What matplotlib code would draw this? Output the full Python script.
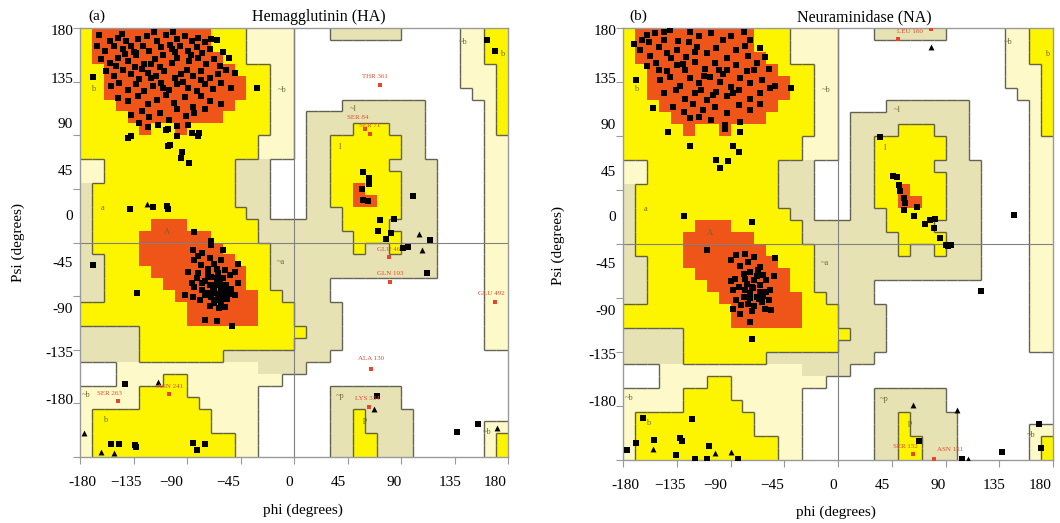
import sys
import numpy as np
import matplotlib
matplotlib.use("Agg")
import matplotlib.pyplot as plt
from matplotlib.colors import ListedColormap
from matplotlib.collections import LineCollection

plt.rcParams['font.family'] = ['Liberation Serif', 'DejaVu Serif']

# Ramachandran region map, 10 degree cells, one row per psi band (180 at top)
# '.' disallowed, 'h'/'g' generously allowed, 'y' allowed, 'r' most favoured
region_rows = [
    "y1 r10 y3 h4 .3 g6 .5 h2 y2",
    "y1 r10 y3 h4 .14 h2 y2",
    "y1 r11 y2 h4 .14 h2 y2",
    "y2 r11 y3 h2 .14 h3 y1",
    "y2 r12 y2 h2 .14 h3 y1",
    "y2 r12 y2 h2 .15 h2 y1",
    "y3 r10 y3 h2 .4 g7 .5 h1 y1",
    "y4 r8 y4 h2 .1 g10 .5 h1 y1",
    "y5 r1 y2 r1 y7 h2 .1 g4 y3 g3 .5 h1 y1",
    "y15 h3 .1 g2 y6 g2 .5 h2",
    "y15 h3 .1 g2 y6 g2 .5 h2",
    "h2 y11 g3 .3 g2 y5 g4 .4 h2",
    "h2 y11 g3 .3 g2 y6 g3 .4 h2",
    "g1 y12 g3 .3 g2 y2 r1 y3 g3 .4 h2",
    "g1 y12 g3 .3 g2 y2 r2 y2 g3 .4 h2",
    "g1 y13 g2 .3 g3 y5 g3 .4 h2",
    "g1 y5 r3 y6 g7 y4 g4 .4 h2",
    "g1 y4 r6 y4 g8 y4 g3 .4 h2",
    "g1 y4 r7 y4 g7 y1 g2 y1 g3 .4 h2",
    "g2 y3 r8 y3 g14 .4 h2",
    "g2 y4 r8 y2 g14 .4 h2",
    "g2 y5 r7 y2 g5 .13 h2",
    "g2 y6 r7 y2 g4 .13 h2",
    "y9 r6 y3 g4 .12 h2",
    "y9 r6 y3 g4 .12 h2",
    "g5 y14 g3 .12 h2",
    "g5 y13 g4 .12 h2",
    "g5 y7 g9 .15",
    ".3 h12 g4 .17",
    ".3 h4 y2 h8 .19",
    "h5 y4 h6 .6 g6 .9",
    "h5 y5 h5 .6 g6 .9",
    "h1 y10 h4 .6 g2 y1 g4 .8",
    "h1 y10 h4 .6 g2 y1 g4 .6 h2",
    "h1 y12 h2 .6 g2 y2 g3 .6 h1 y1",
    "h1 y12 h2 .6 g2 y2 g3 .6 h1 y1",
]

# tick labels (placed where the original figure prints them)
ytick_pos = [178, 138, 100, 61, 23, -16, -55, -92, -131]
ytick_txt = ["180", "135", "90", "45", "0", "-45", "-90", "-135", "-180"]
xtick_pos = [-178, -141, -103, -55, -4, 37, 84, 131, 169]
xtick_txt = ["-180", "\u2212135", "\u221290", "\u221245", "0", "45", "90", "135", "180"]

# ---------------- HA residues ----------------
ha_res_phi = [
    -164, -155, -148, -141, -131, -124, -115, -108, -102, -98, -92, -86, -81, -75, -70,
    -166, -159, -151, -144, -137, -133, -127, -122, -112, -103, -96, -89, -82, -77, -71,
    -162, -155, -148, -140, -133, -126, -117, -110, -103, -98, -88, -81, -74, -67, -62,
    -158, -151, -144, -137, -130, -123, -116, -109, -100, -95, -85, -78, -71, -64, -57, -50,
    -154, -147, -140, -133, -126, -119, -112, -105, -98, -89, -82, -75, -68, -61, -53,
    -148, -140, -131, -123, -115, -108, -101, -92, -85, -78, -71, -61,
    -137, -128, -122, -113, -105, -98, -91, -84, -75,
    -130, -123, -114, -106, -98, -89,
    -120, -128, -110, -135, -90, -100, -145, -118, -60, -55, -65, -142, -150, -113, -93,
    -78, -104, -134, -120, -87,
    -169, -31, -137, -140, -108, -104, -106, -98, -94, -95, -88, -86, -81, -80,
    -138, -119, -107, -106, -84,
    -85, -81, -84, -77, -71, -78, -72, -67, -61, -58, -64, -70, -75, -81, -86, -89, -84,
    -77, -71, -65, -60, -54, -50, -47, -53, -58, -64, -70, -75, -79, -92, -85, -67, -61,
    -56, -50, -63, -68, -57, -72, -65, -60, -63, -58, -71, -77, -82, -54, -70, -60, -47,
    -67, -63, -61, -66, -64, -60, -68, -62, -70, -58, -65, -72,
    -75, -65, -52, -70, -169, -132,
    -142, -154, -147, -134, -133, -85, -75, -82,
    58, 63, 63, 57, 58, 62, 100, 72, 84, 71, 82, 77, 96, 112, 92, 114,
    162, 169, 70, 137, 155,
]
ha_res_psi = [
    174, 169, 172, 169, 171, 173, 169, 174, 177, 171, 173, 169, 172, 168, 171,
    165, 161, 165, 162, 165, 159, 165, 161, 164, 162, 165, 161, 164, 159, 162,
    154, 151, 155, 152, 157, 150, 154, 157, 151, 155, 152, 155, 150, 154, 148,
    144, 140, 145, 141, 137, 142, 140, 144, 138, 141, 140, 144, 138, 141, 145, 142,
    131, 134, 128, 133, 127, 131, 134, 128, 133, 130, 127, 133, 129, 134, 130,
    121, 119, 123, 116, 120, 124, 117, 122, 114, 123, 119, 116,
    107, 110, 105, 109, 103, 112, 106, 109, 112,
    100, 97, 99, 95, 98, 99,
    150, 146, 130, 160, 145, 160, 175, 177, 160, 155, 170, 158, 148, 147, 135,
    136, 166, 147, 138, 157,
    139, 130, 89, 88, 94, 82, 81, 89, 76, 71, 67, 92, 89, 92,
    28, 30, 31, 28, 9,
    -6, -11, -15, -9, -13, -19, -22, -18, -15, -23, -26, -29, -32, -26, -34, -25, -37,
    -40, -36, -33, -30, -27, -25, -34, -39, -41, -43, -46, -44, -48, -44, -46, -51, -50,
    -47, -44, -55, -40, -36, -27, -22, -37, -47, -54, -53, -34, -30, -43, -2, -6, -18,
    -38, -44, -40, -48, -36, -46, -42, -33, -36, -44, -30, -42,
    -65, -66, -70, 1, -19, -42,
    -119, -169, -169, -170, -172, -168, -169, -174,
    59, 54, 49, 45, 36, 35, 39, 19, 20, 10, 8, 3, -4, -26, -5, 2,
    170, 161, -129, -159, -152,
]
ha_gly_phi = [-124, 105, 108, -177, -162, -151, -114, 67, 171]
ha_gly_psi = [32, 7, -6, -160, -176, -177, -117, -140, -156]
ha_out_phi = [72, 60, 64, 80, 81, 169, 65, 63, -148, -105]
ha_out_psi = [132, 95, 91, -12, -33, -50, -106, -138, -133, -127]
ha_out_txt = ["THR 361", "SER 84", "SER 71", "GLU 46", "GLN 193", "GLU 492",
              "ALA 130", "LYS 334", "SER 263", "ASN 241"]
ha_lab_phi = [68, 54, 64, 80, 81, 166, 65, 62, -155, -104]
ha_lab_psi = [139, 105, 98, -6, -26, -43, -97, -131, -127, -121]

# ---------------- NA residues ----------------
na_res_phi = [
    -171, -164, -160, -153, -146, -141, -134, -124, -116, -106, -96, -90, -79, -74,
    -166, -157, -150, -143, -135, -127, -118, -110, -102, -93, -85, -75, -65, -61,
    -160, -152, -143, -135, -128, -120, -111, -103, -93, -85, -76, -68, -58,
    -149, -141, -132, -124, -116, -107, -99, -90, -82, -74, -64, -53,
    -146, -136, -128, -120, -110, -102, -93, -83, -74, -65, -57,
    -138, -129, -121, -113, -103, -93, -83, -74, -65,
    -124, -116, -106, -95, -82,
    -158, -146, -130, -112, -96, -140, -120, -88, -105, -70, -150, -115, -100, -78, -125,
    -169, -155, -39, -142, -124, -102, -92, -99, -88, -83, -82, -95,
    -129, -72, -110,
    -90, -85, -78, -82, -75, -70, -65, -63, -68, -74, -79, -86, -90, -83, -76, -71,
    -65, -60, -57, -63, -68, -74, -79, -85, -88, -81, -75, -70, -64, -58, -56, -61,
    -72, -78, -65, -54, -53, -88, -82, -67,
    -70, -74, -66, -78, -72, -60,
    -74, -72,
    35, 46, 49, 51, 52, 55, 56, 55, 66, 64, 73, 77, 81, 80, 85, 90, 92, 95, 147, 120,
    -163, -122, -169, -177, -154, -132, -131, -136, -108, -120, -110, -84,
    68, 137, 168, 170, 104,
]
na_res_psi = [
    167, 170, 174, 176, 177, 178, 169, 177, 173, 176, 170, 173, 177, 170,
    162, 157, 164, 159, 162, 156, 164, 159, 163, 155, 162, 157, 163, 156,
    148, 151, 144, 149, 145, 152, 146, 151, 145, 149, 144, 151, 146,
    137, 139, 132, 138, 134, 139, 135, 131, 138, 134, 137, 132,
    126, 128, 121, 126, 120, 127, 123, 128, 121, 126, 130,
    114, 110, 117, 112, 114, 109, 116, 112, 117,
    105, 106, 103, 99, 102,
    168, 170, 150, 140, 142, 155, 160, 126, 124, 145, 145, 128, 145, 165, 168,
    137, 113, 130, 93, 82, 70, 69, 63, 82, 77, 93, 96,
    23, 18, -5,
    -13, -9, -8, -18, -15, -11, -19, -26, -27, -23, -25, -29, -31, -36, -33, -37,
    -34, -30, -38, -43, -44, -41, -44, -47, -54, -51, -50, -52, -48, -47, -55, -54,
    -56, -38, -40, -27, -12, -38, -58, -22,
    -30, -45, -46, -29, -36, -40,
    -65, -79,
    89, 57, 56, 49, 44, 38, 34, 28, 31, 23, 17, 20, 21, 13, 5, -1, -2, -1, 24, -39,
    -145, -146, -166, -172, -163, -162, -164, -176, -168, -179, -179, -179,
    -164, -173, -150, -170, -179,
]
na_gly_phi = [78, 63, 100, 109, -90, -103, -155]
na_gly_psi = [164, -134, -138, -179, -173, -174, -171]
na_out_phi = [78, 50, 63, 80]
na_out_psi = [179, 171, -175, -179]
na_out_txt = ["LEU 160", "", "SER 152", "ASN 151"]
na_lab_phi = [60, 0, 56, 94]
na_lab_psi = [177, 0, -169, -171]

# region letters shown on the map
reg_txt = ["b", "a", "A", "~b", "~a", "~b", "b", "~l", "l", "~b", "b", "~p", "p", "~b"]
reg_phi = [-169, -161, -107, -10, -11, -175, -159, 50, 39, 142, 175, 39, 60, 162]
reg_psi = [129, 29, 9, 128, -16, -128, -149, 112, 80, 168, 158, -129, -149, -159]

cell_colors = ['#ffffff', '#fdf9c8', '#e7e2b3', '#fdf500', '#ef5418']
codes = {'.': 0, 'h': 1, 'g': 2, 'y': 3, 'r': 4}


def parse_row(s):
    out = []
    for tok in s.split():
        out += [tok[0]] * int(tok[1:])
    if len(out) != 36:
        print("row length", len(out), s, file=sys.stderr)
    out = (out + ['.'] * 36)[:36]
    return [codes[ch] for ch in out]


grid = np.array([parse_row(s) for s in region_rows])[::-1]  # row 0 = psi -180
edges = np.arange(-180, 181, 10)
level = np.array([0, 1, 1, 2, 3])[grid]

segs = []
for i in range(36):
    for j in range(1, 36):
        a, b = level[i, j - 1], level[i, j]
        if a != b and a < 3 and b < 3:
            segs.append([(edges[j], edges[i]), (edges[j], edges[i + 1])])
for i in range(1, 36):
    for j in range(36):
        a, b = level[i - 1, j], level[i, j]
        if a != b and a < 3 and b < 3:
            segs.append([(edges[j], edges[i]), (edges[j + 1], edges[i])])


def draw_panel(ax, res_phi, res_psi, gly_phi, gly_psi, out_phi, out_psi,
               out_txt, lab_phi, lab_psi):
    ax.pcolormesh(edges, edges, grid, cmap=ListedColormap(cell_colors),
                  vmin=-0.5, vmax=4.5, shading='flat', zorder=0)
    ax.add_collection(LineCollection(segs, colors='#4a4a40', linewidths=1.0,
                                     alpha=0.85, zorder=1))
    ax.axhline(0, color='#808080', lw=0.8, zorder=2)
    ax.axvline(0, color='#808080', lw=0.8, zorder=2)
    for t, p, q in zip(reg_txt, reg_phi, reg_psi):
        ax.text(p, q, t, fontsize=6, color='#6a6a30', ha='center', va='center', zorder=3)
    ax.scatter(res_phi, res_psi, marker='s', s=14, c='black', linewidths=0, zorder=4)
    ax.scatter(gly_phi, gly_psi, marker='^', s=18, c='black', linewidths=0, zorder=4)
    ax.scatter(out_phi, out_psi, marker='s', s=12, c='#e8452a', linewidths=0, zorder=4)
    for t, p, q in zip(out_txt, lab_phi, lab_psi):
        if t:
            ax.text(p, q, t, fontsize=5, color='#e04a30', ha='center', va='center', zorder=5)
    ax.set_xlim(-180, 180)
    ax.set_ylim(-180, 180)
    ax.set_xticks(xtick_pos)
    ax.set_xticklabels(xtick_txt)
    ax.set_yticks(ytick_pos)
    ax.set_yticklabels(ytick_txt)
    ax.set_xticks(np.arange(-180, 181, 45), minor=True)
    ax.set_yticks(np.arange(-180, 181, 45), minor=True)
    ax.tick_params(axis='both', which='major', length=0, labelsize=11)
    ax.tick_params(axis='x', which='major', pad=14)
    ax.tick_params(axis='y', which='major', pad=5)
    ax.tick_params(axis='both', which='minor', length=5, color='#999999', width=0.8)
    for sp in ax.spines.values():
        sp.set_color('#9a9a9a')
        sp.set_linewidth(1.0)


fig = plt.figure(figsize=(10.6, 5.23), dpi=100)
ax1 = fig.add_axes([80 / 1060, 1 - 457 / 523, 428 / 1060, 429 / 523])
ax2 = fig.add_axes([623 / 1060, 1 - 460 / 523, 430 / 1060, 432 / 523])

draw_panel(ax1, ha_res_phi, ha_res_psi, ha_gly_phi, ha_gly_psi, ha_out_phi,
           ha_out_psi, ha_out_txt, ha_lab_phi, ha_lab_psi)
draw_panel(ax2, na_res_phi, na_res_psi, na_gly_phi, na_gly_psi, na_out_phi,
           na_out_psi, na_out_txt, na_lab_phi, na_lab_psi)

fig.text(319 / 1060, 1 - 17 / 523, "Hemagglutinin (HA)", fontsize=11.5, ha='center', va='center')
fig.text(864 / 1060, 1 - 17 / 523, "Neuraminidase (NA)", fontsize=11.5, ha='center', va='center')
fig.text(97 / 1060, 1 - 16 / 523, "(a)", fontsize=11, ha='center', va='center')
fig.text(638 / 1060, 1 - 16 / 523, "(b)", fontsize=11, ha='center', va='center')
fig.text(303 / 1060, 1 - 510 / 523, "phi (degrees)", fontsize=11, ha='center', va='center')
fig.text(836 / 1060, 1 - 512 / 523, "phi (degrees)", fontsize=11, ha='center', va='center')
fig.text(18 / 1060, 1 - 243 / 523, "Psi (degrees)", fontsize=11, ha='center', va='center', rotation=90)
fig.text(558 / 1060, 1 - 245 / 523, "Psi (degrees)", fontsize=11, ha='center', va='center', rotation=90)

fig.savefig("out.png", dpi=100)
